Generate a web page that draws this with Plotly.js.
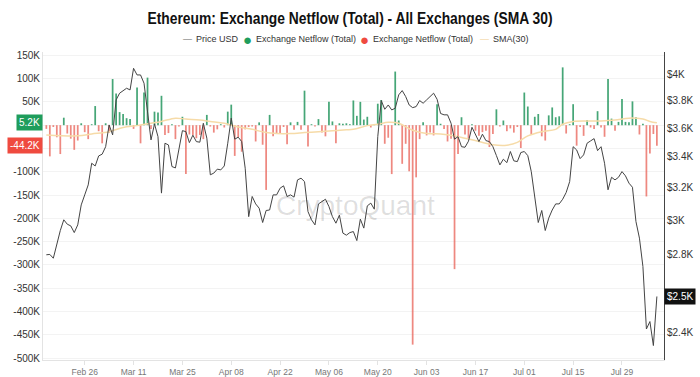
<!DOCTYPE html>
<html><head><meta charset="utf-8">
<script src="https://cdn.plot.ly/plotly-3.0.1.min.js"></script>
<style>html,body{margin:0;padding:0;background:#fff;}#chart{width:700px;height:377px;}</style>
</head><body><div id="chart"></div>
<script>
// ---- data (daily, starting 2024-02-15) ----
const startYear = 2024, startMonth = 1, startDay = 15; // Feb 15 2024
const priceUSD = [
2801,2803,2782,2867,2939,3002,2976,2966,2927,2972,
3092,3154,3217,3358,3340,3407,3419,3470,3623,3552,
3807,3858,3878,3896,3883,4053,4000,4000,3935,3732,
3517,3630,3540,3165,3494,3482,3336,3327,3460,3582,
3575,3498,3550,3505,3501,3635,3529,3282,3293,3319,
3314,3340,3494,3672,3522,3536,3505,3325,3021,3144,
3098,3072,2986,3058,3061,3154,3154,3196,3211,3144,
3154,3140,3249,3260,3238,3051,3002,2972,3098,3112,
3127,3082,3021,2982,3030,2924,2912,2927,2933,2881,
3006,2953,3086,3103,3066,3540,3802,3737,3769,3732,
3745,3845,3878,3832,3769,3749,3757,3802,3782,3807,
3832,3858,3812,3706,3696,3696,3635,3522,3540,3470,
3466,3508,3606,3559,3505,3557,3512,3505,3470,3410,
3347,3385,3362,3437,3374,3369,3430,3437,3409,3303,
3123,2986,3058,2939,3012,3061,3098,3098,3127,3169,
3238,3470,3448,3389,3414,3494,3510,3526,3443,3470,
3358,3186,3266,3249,3266,3303,3275,3228,3202,2992,
2895,2737,2418,2454,2340,2579];
const netflowK = [
-8,-67,-4,-26,-62,16,-18,-29,-53,-33,
4,-15,-30,2,41,-13,-39,4,-16,99,
68,28,24,15,13,-8,81,-39,70,102,
-8,29,27,63,-21,-17,2,-30,-3,18,
-105,-20,-21,-28,-21,-30,22,-3,-16,-9,
2,-5,29,44,-66,-26,-57,-9,-4,-3,
-35,6,-42,-139,22,-24,-19,-19,-4,-41,
6,-10,7,-10,74,-46,2,-3,13,-16,
-24,50,8,-39,4,3,4,2,53,20,
50,12,18,-5,2,46,54,-40,-27,-105,
115,10,-83,-40,-99,-471,-112,-30,6,-22,
-16,-22,45,3,-8,-35,-29,-309,-62,17,
-20,-28,2,-12,-23,-15,-12,-47,-19,34,
-3,10,-13,-7,-16,-4,-49,70,40,-20,
18,24,-24,-33,21,38,17,19,124,-18,
2,45,-44,-4,-23,11,-5,-8,30,-5,
-25,99,14,-12,7,56,7,6,51,17,
-20,3,-153,-61,-19,-44.2];
const smaDayIdx = [0,9,13,18,22,26,30,33,37,40,44,47,51,55,59,63,66,70,74,78,82,86,88,92,95,98,101,105,109,113,117,120,124,128,132,135,138,142,146,148,151,155,159,163,167,171,173,175];
const smaK =      [-21,-23,-19,-14,-5,-1,4,8,15,13,11,8,4,-4,-9,-16,-18,-18,-16,-14,-12,-10,-9,-1,2,6,4,-11,-18,-19,-23,-28,-35,-42,-43,-37,-23,-14,-9,2,8,9,9,11,15,13,8,5];
const xTickVals = ['2024-02-26','2024-03-11','2024-03-25','2024-04-08','2024-04-22','2024-05-06','2024-05-20','2024-06-03','2024-06-17','2024-07-01','2024-07-15','2024-07-29'];
const xTickText = ['Feb 26','Mar 11','Mar 25','Apr 08','Apr 22','May 06','May 20','Jun 03','Jun 17','Jul 01','Jul 15','Jul 29'];
// 0 and -50K sit behind the value boxes in the reference, so their labels are blank
const leftTickVals = [150,100,50,0,-50,-100,-150,-200,-250,-300,-350,-400,-450,-500];
const leftTickText = ['150K','100K','50K','','','-100K','-150K','-200K','-250K','-300K','-350K','-400K','-450K','-500K'];
const rightTickVals = [2400,2800,3000,3200,3400,3600,3800,4000];
const rightTickText = ['$2.4K','$2.8K','$3K','$3.2K','$3.4K','$3.6K','$3.8K','$4K'];
const legendLabels = ['Price USD','Exchange Netflow (Total)','Exchange Netflow (Total)','SMA(30)'];
const titleText = 'Ethereum: Exchange Netflow (Total) - All Exchanges (SMA 30)';
const lastNetflowLabel = '-44.2K', lastSmaLabel = '5.2K', lastPriceLabel = '$2.5K';
const lastSmaValue = 5.2;

// ---- helpers ----
function dayToDate(i){ return new Date(Date.UTC(startYear,startMonth,startDay+i)).toISOString().slice(0,10); }
const dates = priceUSD.map((_,i)=>dayToDate(i));
const smaDates = smaDayIdx.map(dayToDate);
const FONT = '"Liberation Sans Narrow", "Liberation Sans", Arial, sans-serif';
const GREEN = '#1f9d5c', RED = '#ef4a3f', SMA_COLOR = '#f6dba8', PRICE_COLOR = '#444';
const dayMs = 86400000;

const traces = [
  {type:'bar', x:dates, y:netflowK.map(v=>v>0?v:null), yaxis:'y', width:dayMs*0.5,
   marker:{color:'rgba(38,150,95,0.85)'}, showlegend:false, hoverinfo:'skip'},
  {type:'bar', x:dates, y:netflowK.map(v=>v<0?v:null), yaxis:'y', width:dayMs*0.5,
   marker:{color:'rgba(232,96,86,0.75)'}, showlegend:false, hoverinfo:'skip'},
  {type:'scatter', mode:'lines', x:smaDates, y:smaK, yaxis:'y', line:{color:SMA_COLOR, width:1.5, shape:'spline'}, showlegend:false},
  {type:'scatter', mode:'lines', x:dates, y:priceUSD, yaxis:'y2', line:{color:PRICE_COLOR, width:1}, showlegend:false}
];

// legend row drawn as separate annotations (symbol + label)
const px = v => (v-43)/621;
const legY = (360-39)/308;
function legSym(sym, color, size, xpx){ return {text:sym, xref:'paper', yref:'paper', x:px(xpx), y:legY, xanchor:'center', yanchor:'middle', showarrow:false, font:{size:size, color:color}}; }
function legTxt(txt, xpx){ return {text:txt, xref:'paper', yref:'paper', x:px(xpx), y:legY, xanchor:'left', yanchor:'middle', showarrow:false, font:{size:9, color:'#333'}}; }

const layout = {
  width:700, height:377,
  margin:{l:43, r:36, t:52, b:17, pad:0},
  paper_bgcolor:'#fff', plot_bgcolor:'#fff',
  font:{family:FONT, color:'#333', size:10},
  title:{text:'<b>'+titleText+'</b>', font:{family:FONT, size:17, color:'#111'}, x:0.5, xanchor:'center', y:1-18/377, yanchor:'middle'},
  showlegend:false,
  barmode:'overlay',
  xaxis:{type:'date', range:['2024-02-14 01:00','2024-08-10 01:00'], tickvals:xTickVals, ticktext:xTickText,
    tickfont:{size:8.5, color:'#777'}, showgrid:false, zeroline:false, showline:true, linecolor:'#e3e3e3', linewidth:1,
    ticks:'outside', ticklen:4, tickcolor:'#e3e3e3'},
  yaxis:{range:[-504,157], tickvals:leftTickVals, ticktext:leftTickText, tickfont:{size:10, color:'#333'},
    showgrid:true, gridcolor:'#f3f3f3', zeroline:false, showline:true, linecolor:'#e3e3e3', ticks:'', ticklen:0},
  yaxis2:{type:'log', overlaying:'y', side:'right', range:[Math.log10(2274), Math.log10(4186)],
    tickvals:rightTickVals, ticktext:rightTickText, tickfont:{size:10, color:'#333'},
    showgrid:false, zeroline:false, showline:true, linecolor:'#444', linewidth:1, ticks:''},
  annotations:[
    legSym('—', '#666', 9, 187), legTxt(legendLabels[0], 194),
    legSym('●', GREEN, 15, 247), legTxt(legendLabels[1], 254),
    legSym('●', RED, 15, 364), legTxt(legendLabels[2], 371),
    legSym('—', '#f0cf90', 9, 484), legTxt(legendLabels[3], 491),
    {text:'CryptoQuant', xref:'paper', yref:'paper', x:px(355), y:(360-205)/308, xanchor:'center', yanchor:'middle', showarrow:false, font:{size:28, color:'rgba(0,0,0,0.13)', family:'"Liberation Sans", Arial, sans-serif'}},
    {text:lastSmaLabel, xref:'paper', yref:'y', x:0, y:lastSmaValue, xanchor:'right', yanchor:'middle', showarrow:false, bgcolor:GREEN, font:{color:'#fff', size:10}, borderpad:2},
    {text:lastNetflowLabel, xref:'paper', yref:'y', x:0, y:netflowK[netflowK.length-1], xanchor:'right', yanchor:'middle', showarrow:false, bgcolor:RED, font:{color:'#fff', size:10}, borderpad:2},
    {text:lastPriceLabel, xref:'paper', yref:'y2', x:1, y:Math.log10(priceUSD[priceUSD.length-1]), xanchor:'left', yanchor:'middle', showarrow:false, bgcolor:'#111', font:{color:'#fff', size:10}, borderpad:2}
  ]
};
Plotly.newPlot('chart', traces, layout, {staticPlot:true, displayModeBar:false}).then(function(gd){
  // condense the title to the reference's narrow face
  const t = gd.querySelector('.gtitle');
  if (t) { t.setAttribute('textLength', '405'); t.setAttribute('lengthAdjust', 'spacingAndGlyphs'); }
});
</script></body></html>
